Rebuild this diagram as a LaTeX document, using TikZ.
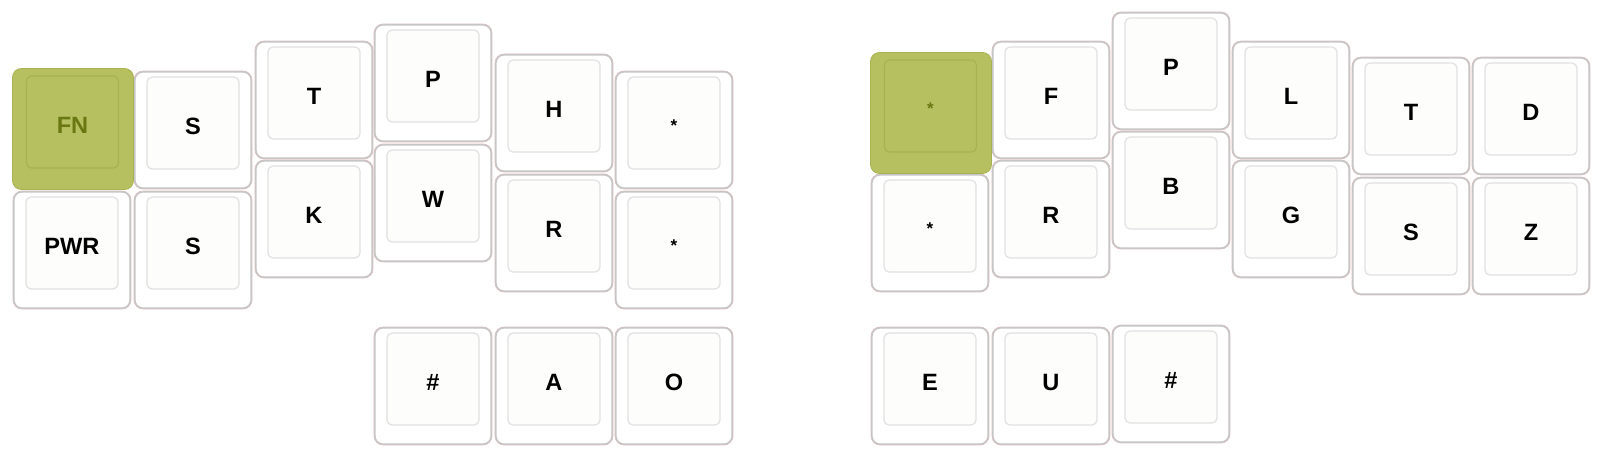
\documentclass[tikz,border=0pt]{standalone}
\usepackage{fontspec}
\setmainfont{Liberation Sans}
\definecolor{rimpink}{RGB}{226,188,188}
\definecolor{rimgrey}{RGB}{198,198,198}
\definecolor{capgrey}{RGB}{225,225,225}
\definecolor{capwhite}{RGB}{253,253,252}
\definecolor{olivefill}{RGB}{183,192,96}
\definecolor{oliveedge}{RGB}{169,178,80}
\definecolor{olivetext}{RGB}{106,120,18}
\newcommand{\st}{{\fontsize{17}{20}\selectfont *}}

\begin{document}
\begin{tikzpicture}[x=1pt, y=-1pt,
                    font=\fontsize{23.6}{28}\selectfont\bfseries,
                    inner sep=0pt]
    \tikzstyle{keyouter}=[rectangle, rounded corners=9pt, minimum width=118pt, minimum height=118pt, draw=rimpink, fill=white, line width=0.7pt]
    \tikzstyle{keyrim}=[rectangle, rounded corners=8pt, minimum width=116.2pt, minimum height=116.2pt, draw=rimgrey, line width=1.5pt]
    \tikzstyle{keycap}=[rectangle, rounded corners=5pt, minimum width=92pt, minimum height=92pt, draw=capgrey, fill=capwhite, line width=1.2pt]
    \tikzstyle{keylabel}=[yshift=-3pt]
    \tikzstyle{hlkey}=[keyouter, minimum width=121pt, minimum height=121pt, draw=oliveedge, fill=olivefill, line width=0.8pt]
    \tikzstyle{hlcap}=[keycap, draw=oliveedge, fill=olivefill]
    \tikzstyle{hllabel}=[keylabel, text=olivetext]

    \useasboundingbox (0,0) rectangle (1599,457);

    % left half
    \foreach \nm/\x/\y/\txt in {lpwr/13/191/PWR, ls1/134/71/S, ls2/134/191/S,
                                lt/255/41/T, lk/255/160/K, lp/374/24/P, lw/374/144/W,
                                lh/495/54/H, lr/495/174/R, lst1/615/71/\st, lst2/615/191/\st,
                                lnum/374/327/\#, la/495/327/A, lo/615/327/O}
    {
        \node[keyouter] (k\nm) at (\x+59,\y+59) {};
        \node[keyrim] (r\nm) at (k\nm.center) {};
        \node[keycap] (c\nm) at (\x+59,\y+52) {};
        \node[keylabel] (t\nm) at (c\nm.center) {\txt};
    }

    % right half
    \foreach \nm/\x/\y/\txt in {rst2/871/174/\st, rf/992/41/F, rr/992/160/R,
                                rp/1112/12/P, rb/1112/131/B, rl/1232/41/L, rg/1232/160/G,
                                rt/1352/57/T, rs/1352/177/S, rd/1472/57/D, rz/1472/177/Z,
                                re/871/327/E, ru/992/327/U, rnum/1112/325/\#}
    {
        \node[keyouter] (k\nm) at (\x+59,\y+59) {};
        \node[keyrim] (r\nm) at (k\nm.center) {};
        \node[keycap] (c\nm) at (\x+59,\y+52) {};
        \node[keylabel] (t\nm) at (c\nm.center) {\txt};
    }

    % highlighted keys
    \foreach \nm/\x/\y/\txt in {lfn/13/70/FN, rst1/871/54/\st}
    {
        \node[hlkey] (k\nm) at (\x+60,\y+59) {};
        \node[hlcap] (c\nm) at (\x+59.5,\y+52) {};
        \node[hllabel] (t\nm) at (c\nm.center) {\txt};
    }
\end{tikzpicture}
\end{document}
